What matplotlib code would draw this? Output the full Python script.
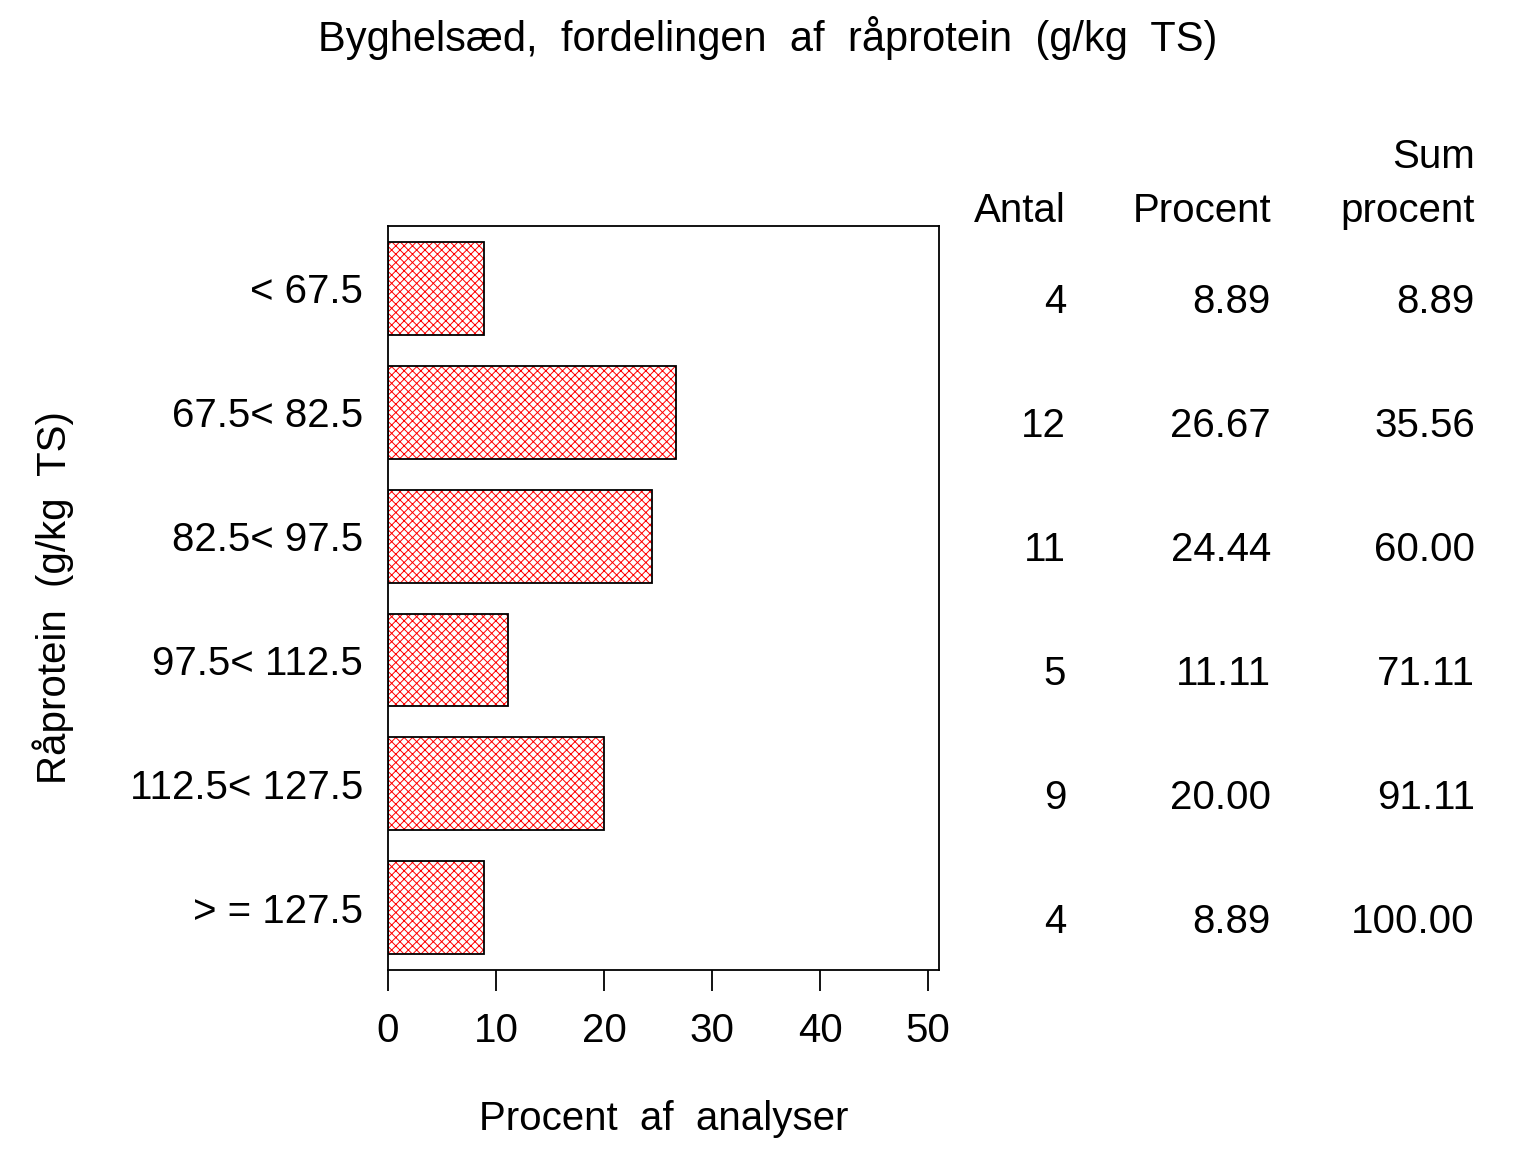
import matplotlib
matplotlib.use("Agg")
import matplotlib.pyplot as plt
import numpy as np

plt.rcParams['font.family'] = ['Liberation Sans', 'DejaVu Sans']
plt.rcParams['hatch.linewidth'] = 0.7

# data
klasser = ["< 67.5", "67.5< 82.5", "82.5< 97.5", "97.5< 112.5", "112.5< 127.5", "> = 127.5"]
antal   = [4, 12, 11, 5, 9, 4]
procent = [8.89, 26.67, 24.44, 11.11, 20.00, 8.89]
sum_pct = [8.89, 35.56, 60.00, 71.11, 91.11, 100.00]
xticks  = [0, 10, 20, 30, 40, 50]

fig = plt.figure(figsize=(15.36, 11.52), dpi=100)
ax = fig.add_axes([0.2526, 0.158, 0.6113 - 0.2526, 0.8038 - 0.158])

y = np.arange(len(klasser))
# hatch in red, outline in black
ax.barh(y, procent, height=0.75, color="white", edgecolor="red", hatch="xxxx", linewidth=0)
ax.barh(y, procent, height=0.75, fill=False, edgecolor="black", linewidth=1.3)

ax.set_xlim(0, 51)
ax.set_ylim(5.5, -0.5)
ax.set_xticks(xticks)
ax.set_xticklabels([str(t) for t in xticks], fontsize=29)
ax.set_yticks(y)
ax.set_yticklabels(klasser, fontsize=29)
ax.tick_params(axis="x", direction="out", length=15, width=1.3, pad=15)
ax.tick_params(axis="y", length=0, pad=18)
for s in ax.spines.values():
    s.set_linewidth(1.3)

ax.set_xlabel("Procent  af  analyser", fontsize=29, labelpad=36)
ax.set_ylabel("Råprotein  (g/kg  TS)", fontsize=29, labelpad=40)

fig.text(0.5, 1 - 38 / 1152, "Byghelsæd,  fordelingen  af  råprotein  (g/kg  TS)",
         ha="center", va="center", fontsize=30)

# table to the right
col_x = [1066 / 1536, 1271 / 1536, 1475 / 1536]
fig.text(col_x[0], 1 - 211 / 1152, "Antal", ha="right", va="center", fontsize=29)
fig.text(col_x[1], 1 - 211 / 1152, "Procent", ha="right", va="center", fontsize=29)
fig.text(col_x[2], 1 - 211 / 1152, "procent", ha="right", va="center", fontsize=29)
fig.text(col_x[2], 1 - 157 / 1152, "Sum", ha="right", va="center", fontsize=29)
for i in range(len(klasser)):
    yy = 1 - (302 + 124 * i) / 1152
    fig.text(col_x[0], yy, f"{antal[i]}", ha="right", va="center", fontsize=29)
    fig.text(col_x[1], yy, f"{procent[i]:.2f}", ha="right", va="center", fontsize=29)
    fig.text(col_x[2], yy, f"{sum_pct[i]:.2f}", ha="right", va="center", fontsize=29)

fig.savefig("out.png", dpi=100)
